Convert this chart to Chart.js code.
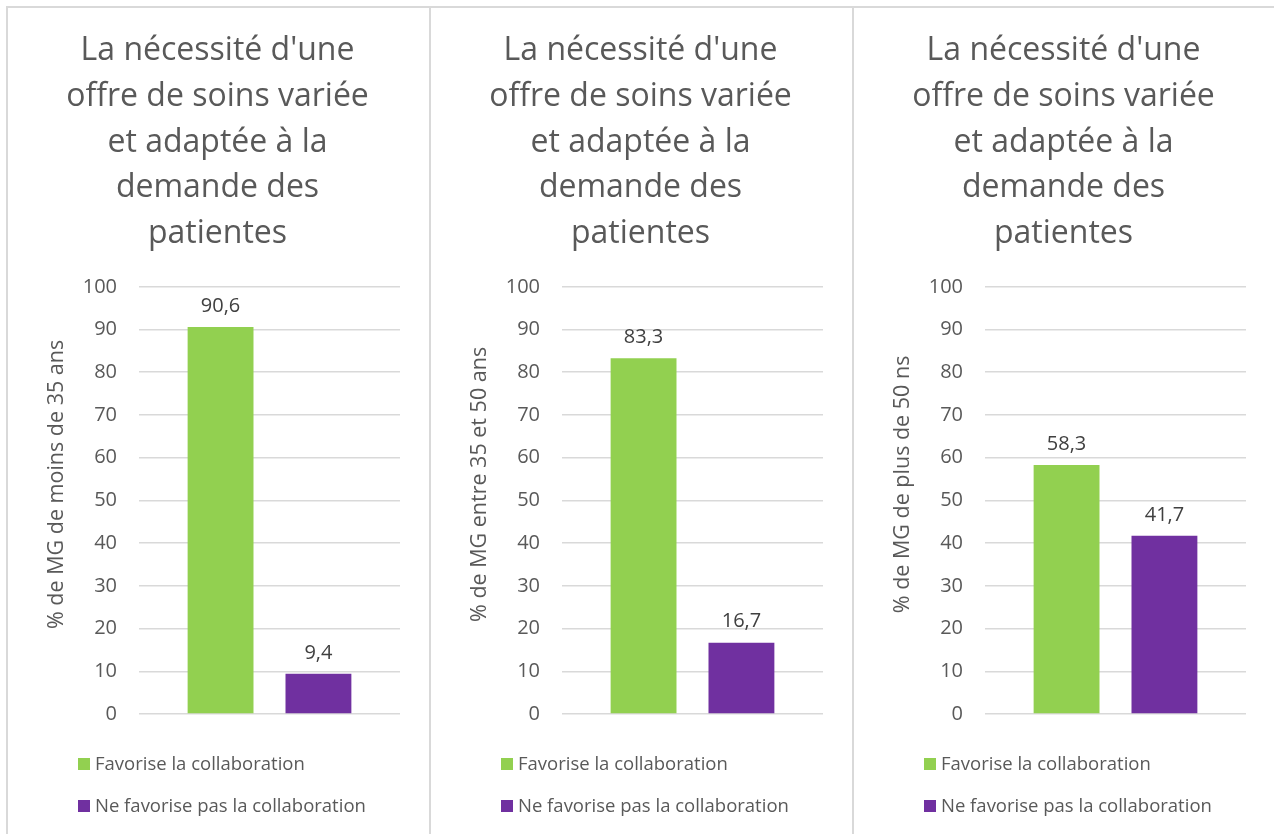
<!DOCTYPE html>
<html lang="fr">
<head>
<meta charset="utf-8">
<title>Offre de soins variée</title>
<script src="https://cdn.jsdelivr.net/npm/chart.js@4.4.1/dist/chart.umd.min.js"></script>
<style>
  body { margin: 0; background: #fff; font-family: "Open Sans", sans-serif; overflow: hidden; }
  #wrap { position: absolute; left: 6px; top: 6px; display: flex; }
  .panel { position: relative; width: 421px; height: 828px; border-left: 2px solid #d9d9d9; border-top: 2px solid #d9d9d9; }
  .panel:last-child { border-right: 2px solid #d9d9d9; }
  .panel canvas { position: absolute; left: 0; top: 0; }
  .legend { position: absolute; left: 70px; top: 742px; color: #595959; font-size: 18.5px; }
  .legend div { height: 42px; line-height: 26px; white-space: nowrap; }
  .legend span { display: inline-block; width: 12px; height: 12px; margin-right: 5px; vertical-align: 0px; }
</style>
</head>
<body>
<div id="wrap"></div>
<script>
'use strict';

// chart values
let titleLines = ['La nécessité d\'une', 'offre de soins variée', 'et adaptée à la', 'demande des', 'patientes'];
let axisTitles = ['% de MG de moins de 35 ans', '% de MG entre 35 et 50 ans', '% de MG de plus de 50 ns'];
let seriesNames = ['Favorise la collaboration', 'Ne favorise pas la collaboration'];
let favorise = [90.6, 83.3, 58.3];
let neFavorisePas = [9.4, 16.7, 41.7];
let yMin = 0;
let yMax = 100;
let yStep = 10;

let colors = ['#92D050', '#7030A0'];
let fontName = 'Open Sans';

// value above each bar, with a decimal comma, plus the rotated y title
let barValues = {
  id: 'barValues',
  afterDatasetsDraw(chart, args, opts) {
    let ctx = chart.ctx;
    let area = chart.chartArea;
    ctx.save();
    ctx.font = '20px "' + fontName + '"';
    ctx.fillStyle = '#404040';
    ctx.textAlign = 'center';
    ctx.textBaseline = 'middle';
    chart.data.datasets.forEach((ds, i) => {
      chart.getDatasetMeta(i).data.forEach((bar, j) => {
        ctx.fillText(String(ds.data[j]).replace('.', ','), bar.x, bar.y - 21);
      });
    });

    // y title sits a little above the plot's middle
    ctx.font = '21.5px "' + fontName + '"';
    ctx.fillStyle = '#595959';
    ctx.translate(49, (area.top + area.bottom) / 2 - 16);
    ctx.rotate(-Math.PI / 2);
    ctx.fillText(opts.text, 0, 0);
    ctx.restore();
  }
};

let wrap = document.getElementById('wrap');

for (let p = 0; p < favorise.length; p++) {
  let panel = document.createElement('div');
  panel.className = 'panel';
  wrap.appendChild(panel);

  let canvas = document.createElement('canvas');
  canvas.width = 421;
  canvas.height = 828;
  canvas.style.width = '421px';
  canvas.style.height = '828px';
  panel.appendChild(canvas);

  let legend = document.createElement('div');
  legend.className = 'legend';
  for (let s = 0; s < seriesNames.length; s++) {
    let row = document.createElement('div');
    let box = document.createElement('span');
    box.style.background = colors[s];
    row.appendChild(box);
    row.appendChild(document.createTextNode(seriesNames[s]));
    legend.appendChild(row);
  }
  panel.appendChild(legend);

  new Chart(canvas.getContext('2d'), {
    type: 'bar',
    data: {
      labels: [''],
      datasets: [
        { label: seriesNames[0], data: [favorise[p]], backgroundColor: colors[0] },
        { label: seriesNames[1], data: [neFavorisePas[p]], backgroundColor: colors[1] }
      ]
    },
    options: {
      responsive: false,
      animation: false,
      events: [],
      categoryPercentage: 0.75,
      barPercentage: 0.673,
      layout: { padding: { left: 27, right: 29, top: 0, bottom: 122 } },
      plugins: {
        legend: { display: false },
        tooltip: { enabled: false },
        barValues: { text: axisTitles[p] },
        title: {
          display: true,
          text: titleLines,
          color: '#595959',
          font: { family: fontName, size: 32, weight: 'normal', lineHeight: 1.43 },
          padding: { top: 20, bottom: 30 }
        }
      },
      scales: {
        x: { display: false },
        y: {
          min: yMin,
          max: yMax,
          ticks: { stepSize: yStep, color: '#595959', font: { family: fontName, size: 20 }, padding: 22 },
          grid: { color: '#d9d9d9', lineWidth: 1.5, drawTicks: false },
          border: { display: false },
          afterFit(scale) { scale.width = 104; }
        }
      }
    },
    plugins: [barValues]
  });
}
</script>
</body>
</html>
